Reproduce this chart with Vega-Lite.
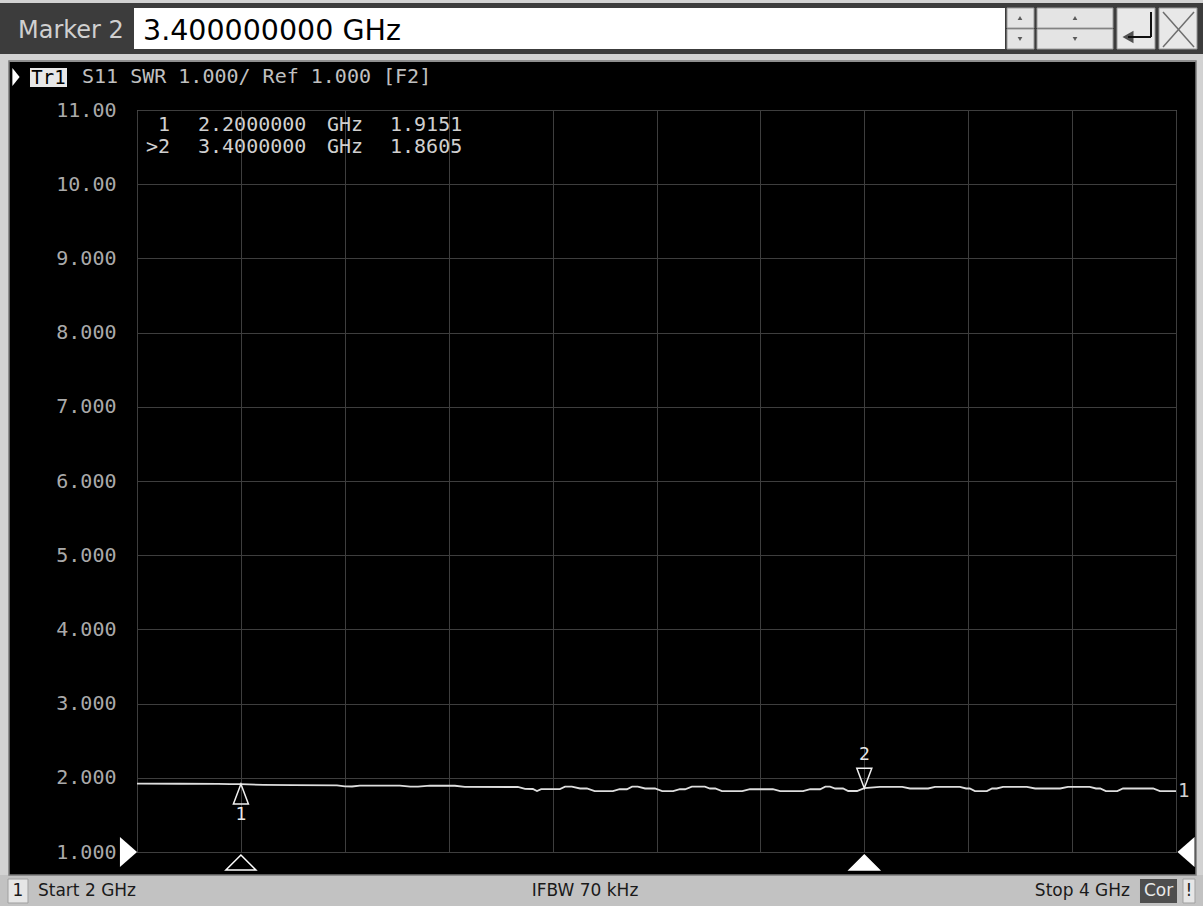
{
  "$schema": "https://vega.github.io/schema/vega-lite/v6.json",
  "width": 1039,
  "height": 742,
  "autosize": {"type": "none"},
  "padding": {"left": 137, "top": 110, "right": 27, "bottom": 54},
  "background": "#000000",
  "config": {
    "view": {"stroke": "#8f8f8f", "strokeWidth": 1},
    "axis": {
      "grid": true,
      "gridColor": "#3e3e3e",
      "gridWidth": 1,
      "ticks": false,
      "domain": false,
      "labelFont": "DejaVu Sans Mono",
      "labelFontSize": 20,
      "labelColor": "#aaaaaa"
    }
  },
  "datasets": {
    "trace": [
      {"f": 2.000, "swr": 1.922}, {"f": 2.083, "swr": 1.920}, {"f": 2.156, "swr": 1.918},
      {"f": 2.179, "swr": 1.915}, {"f": 2.200, "swr": 1.9151}, {"f": 2.243, "swr": 1.905},
      {"f": 2.300, "swr": 1.900}, {"f": 2.385, "swr": 1.899}, {"f": 2.400, "swr": 1.884},
      {"f": 2.414, "swr": 1.883}, {"f": 2.429, "swr": 1.895}, {"f": 2.506, "swr": 1.895},
      {"f": 2.526, "swr": 1.882}, {"f": 2.541, "swr": 1.881}, {"f": 2.564, "swr": 1.894},
      {"f": 2.612, "swr": 1.893}, {"f": 2.631, "swr": 1.877}, {"f": 2.733, "swr": 1.876},
      {"f": 2.747, "swr": 1.850}, {"f": 2.762, "swr": 1.849}, {"f": 2.770, "swr": 1.822},
      {"f": 2.778, "swr": 1.848}, {"f": 2.814, "swr": 1.848}, {"f": 2.824, "swr": 1.880},
      {"f": 2.837, "swr": 1.880}, {"f": 2.853, "swr": 1.856}, {"f": 2.866, "swr": 1.856},
      {"f": 2.881, "swr": 1.820}, {"f": 2.916, "swr": 1.820}, {"f": 2.929, "swr": 1.846},
      {"f": 2.943, "swr": 1.846}, {"f": 2.953, "swr": 1.880}, {"f": 2.964, "swr": 1.880},
      {"f": 2.978, "swr": 1.856}, {"f": 2.997, "swr": 1.856}, {"f": 3.011, "swr": 1.820},
      {"f": 3.032, "swr": 1.820}, {"f": 3.045, "swr": 1.846}, {"f": 3.055, "swr": 1.846},
      {"f": 3.068, "swr": 1.880}, {"f": 3.093, "swr": 1.880}, {"f": 3.103, "swr": 1.856},
      {"f": 3.113, "swr": 1.856}, {"f": 3.126, "swr": 1.820}, {"f": 3.165, "swr": 1.820},
      {"f": 3.180, "swr": 1.846}, {"f": 3.224, "swr": 1.846}, {"f": 3.238, "swr": 1.820},
      {"f": 3.282, "swr": 1.820}, {"f": 3.296, "swr": 1.846}, {"f": 3.315, "swr": 1.846},
      {"f": 3.325, "swr": 1.880}, {"f": 3.334, "swr": 1.880}, {"f": 3.344, "swr": 1.856},
      {"f": 3.359, "swr": 1.856}, {"f": 3.369, "swr": 1.822}, {"f": 3.386, "swr": 1.822},
      {"f": 3.400, "swr": 1.8605}, {"f": 3.430, "swr": 1.878}, {"f": 3.473, "swr": 1.878},
      {"f": 3.488, "swr": 1.856}, {"f": 3.523, "swr": 1.856}, {"f": 3.536, "swr": 1.878},
      {"f": 3.584, "swr": 1.878}, {"f": 3.596, "swr": 1.856}, {"f": 3.603, "swr": 1.856},
      {"f": 3.613, "swr": 1.820}, {"f": 3.636, "swr": 1.820}, {"f": 3.646, "swr": 1.856},
      {"f": 3.655, "swr": 1.856}, {"f": 3.667, "swr": 1.878}, {"f": 3.713, "swr": 1.878},
      {"f": 3.729, "swr": 1.856}, {"f": 3.777, "swr": 1.856}, {"f": 3.792, "swr": 1.878},
      {"f": 3.834, "swr": 1.878}, {"f": 3.846, "swr": 1.856}, {"f": 3.854, "swr": 1.856},
      {"f": 3.865, "swr": 1.820}, {"f": 3.887, "swr": 1.820}, {"f": 3.898, "swr": 1.856},
      {"f": 3.956, "swr": 1.856}, {"f": 3.969, "swr": 1.820}, {"f": 4.000, "swr": 1.820}
    ],
    "markers": [
      {"marker": 1, "tag": "1", "freq": 2.2, "swr": 1.9151, "active": false},
      {"marker": 2, "tag": ">2", "freq": 3.4, "swr": 1.8605, "active": true}
    ]
  },
  "layer": [
    {
      "data": {"values": [{}]},
      "mark": {"type": "rect", "fill": "#d2d2d2"},
      "encoding": {"x": {"datum": 1.73628}, "x2": {"datum": 4.05197}, "y": {"datum": 12.4825}, "y2": {"datum": 11.6469}}
    },
    {
      "data": {"values": [{}]},
      "mark": {"type": "rect", "fill": "#3c3c3c"},
      "encoding": {"x": {"datum": 1.73628}, "x2": {"datum": 4.05197}, "y": {"datum": 12.442}, "y2": {"datum": 11.7547}}
    },
    {
      "data": {"values": [{}]},
      "mark": {"type": "rect", "fill": "#d2d2d2"},
      "encoding": {"x": {"datum": 1.73628}, "x2": {"datum": 1.75361}, "y": {"datum": 11.7547}, "y2": {"datum": 0.2722}}
    },
    {
      "data": {"values": [{}]},
      "mark": {"type": "rect", "fill": "#d2d2d2"},
      "encoding": {"x": {"datum": 4.03849}, "x2": {"datum": 4.05197}, "y": {"datum": 11.7547}, "y2": {"datum": 0.2722}}
    },
    {
      "data": {"values": [{}]},
      "mark": {"type": "rect", "fill": "#c2c2c2"},
      "encoding": {"x": {"datum": 1.73628}, "x2": {"datum": 4.05197}, "y": {"datum": 0.69}, "y2": {"datum": 0.2722}}
    },
    {
      "data": {"values": [{}]},
      "mark": {"type": "rect", "fill": null, "stroke": "#7a7a7a", "strokeWidth": 1.5},
      "encoding": {"x": {"datum": 1.75361}, "x2": {"datum": 4.03849}, "y": {"datum": 11.6604}, "y2": {"datum": 0.69}}
    },
    {
      "data": {"values": [{}]},
      "mark": {"type": "rect", "fill": "#ffffff"},
      "encoding": {"x": {"datum": 1.99423}, "x2": {"datum": 3.67084}, "y": {"datum": 12.3747}, "y2": {"datum": 11.8221}}
    },
    {
      "data": {"values": [{}]},
      "mark": {"type": "rect", "fill": "#e4e4e4", "stroke": "#9a9a9a", "strokeWidth": 1},
      "encoding": {"x": {"datum": 3.67469}, "x2": {"datum": 3.72666}, "y": {"datum": 12.3747}, "y2": {"datum": 12.1051}}
    },
    {
      "data": {"values": [{}]},
      "mark": {"type": "rect", "fill": "#e4e4e4", "stroke": "#9a9a9a", "strokeWidth": 1},
      "encoding": {"x": {"datum": 3.67469}, "x2": {"datum": 3.72666}, "y": {"datum": 12.0916}, "y2": {"datum": 11.8221}}
    },
    {
      "data": {"values": [{}]},
      "mark": {"type": "rect", "fill": "#e4e4e4", "stroke": "#9a9a9a", "strokeWidth": 1},
      "encoding": {"x": {"datum": 3.73244}, "x2": {"datum": 3.87873}, "y": {"datum": 12.3747}, "y2": {"datum": 12.1051}}
    },
    {
      "data": {"values": [{}]},
      "mark": {"type": "rect", "fill": "#e4e4e4", "stroke": "#9a9a9a", "strokeWidth": 1},
      "encoding": {"x": {"datum": 3.73244}, "x2": {"datum": 3.87873}, "y": {"datum": 12.0916}, "y2": {"datum": 11.8221}}
    },
    {
      "data": {"values": [{}]},
      "mark": {"type": "rect", "fill": "#e8e8e8", "stroke": "#9a9a9a", "strokeWidth": 1},
      "encoding": {"x": {"datum": 3.88643}, "x2": {"datum": 3.95958}, "y": {"datum": 12.3747}, "y2": {"datum": 11.8221}}
    },
    {
      "data": {"values": [{}]},
      "mark": {"type": "rect", "fill": "#e8e8e8", "stroke": "#9a9a9a", "strokeWidth": 1},
      "encoding": {"x": {"datum": 3.96728}, "x2": {"datum": 4.04042}, "y": {"datum": 12.3747}, "y2": {"datum": 11.8221}}
    },
    {
      "data": {"values": [{}]},
      "mark": {"type": "point", "shape": "triangle-up", "size": 22, "filled": true, "color": "#202020"},
      "encoding": {"x": {"datum": 3.69971}, "y": {"datum": 12.2399}}
    },
    {
      "data": {"values": [{}]},
      "mark": {"type": "point", "shape": "triangle-down", "size": 22, "filled": true, "color": "#202020"},
      "encoding": {"x": {"datum": 3.69971}, "y": {"datum": 11.9569}}
    },
    {
      "data": {"values": [{}]},
      "mark": {"type": "point", "shape": "triangle-up", "size": 22, "filled": true, "color": "#202020"},
      "encoding": {"x": {"datum": 3.80558}, "y": {"datum": 12.2399}}
    },
    {
      "data": {"values": [{}]},
      "mark": {"type": "point", "shape": "triangle-down", "size": 22, "filled": true, "color": "#202020"},
      "encoding": {"x": {"datum": 3.80558}, "y": {"datum": 11.9569}}
    },
    {
      "data": {"values": [{}]},
      "mark": {"type": "rule", "color": "#101010", "strokeWidth": 2},
      "encoding": {"x": {"datum": 3.95188}, "y": {"datum": 12.3208}, "y2": {"datum": 11.9838}}
    },
    {
      "data": {"values": [{}]},
      "mark": {"type": "rule", "color": "#101010", "strokeWidth": 2},
      "encoding": {"x": {"datum": 3.9076}, "x2": {"datum": 3.95188}, "y": {"datum": 11.9838}}
    },
    {
      "data": {"values": [{}]},
      "mark": {"type": "point", "shape": "triangle-left", "size": 160, "filled": true, "color": "#101010"},
      "encoding": {"x": {"datum": 3.9076}, "y": {"datum": 11.9838}}
    },
    {
      "data": {"values": [{}]},
      "mark": {"type": "rule", "color": "#6e6e6e", "strokeWidth": 1.5},
      "encoding": {"x": {"datum": 3.97498}, "x2": {"datum": 4.03465}, "y": {"datum": 12.3208}, "y2": {"datum": 11.8491}}
    },
    {
      "data": {"values": [{}]},
      "mark": {"type": "rule", "color": "#6e6e6e", "strokeWidth": 1.5},
      "encoding": {"x": {"datum": 3.97498}, "x2": {"datum": 4.03465}, "y": {"datum": 11.8491}, "y2": {"datum": 12.3208}}
    },
    {
      "data": {"values": [{}]},
      "mark": {"type": "text", "text": "Marker 2", "align": "left", "baseline": "middle", "font": "DejaVu Sans", "fontSize": 24, "color": "#d0d0d0"},
      "encoding": {"x": {"datum": 1.77093}, "y": {"datum": 12.0647}}
    },
    {
      "data": {"values": [{}]},
      "mark": {"type": "text", "text": "3.400000000 GHz", "align": "left", "baseline": "middle", "font": "DejaVu Sans", "fontSize": 28.5, "color": "#000000"},
      "encoding": {"x": {"datum": 2.01155}, "y": {"datum": 12.0647}}
    },
    {
      "data": {"values": [{}]},
      "mark": {"type": "point", "shape": "M0.4,0L-0.4,-1L-0.4,1Z", "size": 324, "filled": true, "color": "#ffffff", "opacity": 1},
      "encoding": {"x": {"datum": 1.76708}, "y": {"datum": 11.4447}}
    },
    {
      "data": {"values": [{}]},
      "mark": {"type": "rect", "fill": "#e8e8e8"},
      "encoding": {"x": {"datum": 1.79403}, "x2": {"datum": 1.86526}, "y": {"datum": 11.566}, "y2": {"datum": 11.31}}
    },
    {
      "data": {"values": [{}]},
      "mark": {"type": "text", "text": "Tr1", "align": "center", "baseline": "middle", "font": "DejaVu Sans Mono", "fontSize": 19, "color": "#000000"},
      "encoding": {"x": {"datum": 1.8296}, "y": {"datum": 11.438}}
    },
    {
      "data": {"values": [{}]},
      "mark": {"type": "text", "text": "S11 SWR 1.000/ Ref 1.000 [F2]", "align": "left", "baseline": "middle", "font": "DejaVu Sans Mono", "fontSize": 20, "color": "#c0c0c0"},
      "encoding": {"x": {"datum": 1.89413}, "y": {"datum": 11.4447}}
    },
    {
      "data": {"name": "trace"},
      "mark": {"type": "line", "color": "#dedede", "strokeWidth": 1.8, "interpolate": "linear"},
      "encoding": {
        "x": {
          "field": "f",
          "type": "quantitative",
          "scale": {"domain": [2, 4], "nice": false, "zero": false},
          "axis": {"values": [2, 2.2, 2.4, 2.6, 2.8, 3, 3.2, 3.4, 3.6, 3.8, 4], "labels": false, "title": null}
        },
        "y": {
          "field": "swr",
          "type": "quantitative",
          "scale": {"domain": [1, 11], "nice": false, "zero": false},
          "axis": {"values": [1, 2, 3, 4, 5, 6, 7, 8, 9, 10, 11], "format": ".4r", "labelPadding": 21, "title": null}
        }
      }
    },
    {
      "data": {"name": "markers"},
      "transform": [{"filter": "datum.marker == 1"}],
      "encoding": {"y": {"datum": 10.7978}},
      "layer": [
        {"mark": {"type": "text", "align": "right", "baseline": "middle", "font": "DejaVu Sans Mono", "fontSize": 20, "color": "#d0d0d0"},
         "encoding": {"x": {"datum": 2.06352}, "text": {"field": "tag", "type": "nominal"}}},
        {"mark": {"type": "text", "align": "left", "baseline": "middle", "font": "DejaVu Sans Mono", "fontSize": 20, "color": "#d0d0d0"},
         "encoding": {"x": {"datum": 2.11742}, "text": {"field": "freq", "type": "quantitative", "format": ".7f"}}},
        {"mark": {"type": "text", "text": "GHz", "align": "left", "baseline": "middle", "font": "DejaVu Sans Mono", "fontSize": 20, "color": "#d0d0d0"},
         "encoding": {"x": {"datum": 2.36574}}},
        {"mark": {"type": "text", "align": "left", "baseline": "middle", "font": "DejaVu Sans Mono", "fontSize": 20, "color": "#d0d0d0"},
         "encoding": {"x": {"datum": 2.48701}, "text": {"field": "swr", "type": "quantitative", "format": ".4f"}}}
      ]
    },
    {
      "data": {"name": "markers"},
      "transform": [{"filter": "datum.marker == 2"}],
      "encoding": {"y": {"datum": 10.5013}},
      "layer": [
        {"mark": {"type": "text", "align": "right", "baseline": "middle", "font": "DejaVu Sans Mono", "fontSize": 20, "color": "#d0d0d0"},
         "encoding": {"x": {"datum": 2.06352}, "text": {"field": "tag", "type": "nominal"}}},
        {"mark": {"type": "text", "align": "left", "baseline": "middle", "font": "DejaVu Sans Mono", "fontSize": 20, "color": "#d0d0d0"},
         "encoding": {"x": {"datum": 2.11742}, "text": {"field": "freq", "type": "quantitative", "format": ".7f"}}},
        {"mark": {"type": "text", "text": "GHz", "align": "left", "baseline": "middle", "font": "DejaVu Sans Mono", "fontSize": 20, "color": "#d0d0d0"},
         "encoding": {"x": {"datum": 2.36574}}},
        {"mark": {"type": "text", "align": "left", "baseline": "middle", "font": "DejaVu Sans Mono", "fontSize": 20, "color": "#d0d0d0"},
         "encoding": {"x": {"datum": 2.48701}, "text": {"field": "swr", "type": "quantitative", "format": ".4f"}}}
      ]
    },
    {
      "data": {"name": "markers"},
      "transform": [{"filter": "datum.marker == 1"}],
      "encoding": {"x": {"field": "freq", "type": "quantitative"}, "y": {"field": "swr", "type": "quantitative"}},
      "layer": [
        {"mark": {"type": "point", "shape": "M0,0L0.75,2L-0.75,2Z", "size": 400, "filled": false, "stroke": "#f0f0f0", "strokeWidth": 1.5, "opacity": 1}},
        {"mark": {"type": "text", "dy": 31, "baseline": "middle", "font": "DejaVu Sans Mono", "fontSize": 18, "color": "#e8e8e8"},
         "encoding": {"text": {"field": "marker", "type": "nominal"}}}
      ]
    },
    {
      "data": {"name": "markers"},
      "transform": [{"filter": "datum.marker == 2"}],
      "encoding": {"x": {"field": "freq", "type": "quantitative"}, "y": {"field": "swr", "type": "quantitative"}},
      "layer": [
        {"mark": {"type": "point", "shape": "M0,0L0.75,-2L-0.75,-2Z", "size": 400, "filled": false, "stroke": "#f0f0f0", "strokeWidth": 1.5, "opacity": 1}},
        {"mark": {"type": "text", "dy": -33, "baseline": "middle", "font": "DejaVu Sans Mono", "fontSize": 18, "color": "#e8e8e8"},
         "encoding": {"text": {"field": "marker", "type": "nominal"}}}
      ]
    },
    {
      "data": {"name": "markers"},
      "mark": {"type": "point", "shape": "M0,-0.5L1,0.5L-1,0.5Z", "size": 900, "filled": true, "stroke": "#ffffff", "strokeWidth": 1.5, "opacity": 1, "yOffset": 10.5},
      "encoding": {
        "x": {"field": "freq", "type": "quantitative"},
        "y": {"datum": 1},
        "fill": {"condition": {"test": "datum.active", "value": "#ffffff"}, "value": "#000000"}
      }
    },
    {
      "data": {"values": [{}]},
      "mark": {"type": "point", "shape": "M0.57,0L-0.57,-1L-0.57,1Z", "size": 900, "filled": true, "color": "#ffffff", "opacity": 1, "xOffset": -8.5},
      "encoding": {"x": {"datum": 2}, "y": {"datum": 1}}
    },
    {
      "data": {"values": [{}]},
      "mark": {"type": "point", "shape": "M-0.57,0L0.57,-1L0.57,1Z", "size": 900, "filled": true, "color": "#ffffff", "opacity": 1, "xOffset": 10},
      "encoding": {"x": {"datum": 4}, "y": {"datum": 1}}
    },
    {
      "data": {"values": [{}]},
      "mark": {"type": "text", "text": "1", "align": "left", "baseline": "middle", "dx": 2, "font": "DejaVu Sans Mono", "fontSize": 19, "color": "#d0d0d0"},
      "encoding": {"x": {"datum": 4}, "y": {"datum": 1.82}}
    },
    {
      "data": {"values": [{}]},
      "mark": {"type": "rect", "fill": "#e6e6e6", "stroke": "#a0a0a0", "strokeWidth": 1},
      "encoding": {"x": {"datum": 1.75169}, "x2": {"datum": 1.79018}, "y": {"datum": 0.6361}, "y2": {"datum": 0.3127}}
    },
    {
      "data": {"values": [{}]},
      "mark": {"type": "rect", "fill": "#4e4e4e"},
      "encoding": {"x": {"datum": 3.9307}, "x2": {"datum": 4.00192}, "y": {"datum": 0.6361}, "y2": {"datum": 0.3127}}
    },
    {
      "data": {"values": [{}]},
      "mark": {"type": "rect", "fill": "#e6e6e6", "stroke": "#a0a0a0", "strokeWidth": 1},
      "encoding": {"x": {"datum": 4.01347}, "x2": {"datum": 4.03657}, "y": {"datum": 0.6361}, "y2": {"datum": 0.3127}}
    },
    {
      "data": {"values": [{}]},
      "mark": {"type": "text", "text": "1", "align": "center", "baseline": "middle", "font": "DejaVu Sans", "fontSize": 17, "color": "#1a1a1a"},
      "encoding": {"x": {"datum": 1.77093}, "y": {"datum": 0.4744}}
    },
    {
      "data": {"values": [{}]},
      "mark": {"type": "text", "text": "Start 2 GHz", "align": "left", "baseline": "middle", "font": "DejaVu Sans", "fontSize": 17, "color": "#1a1a1a"},
      "encoding": {"x": {"datum": 1.80943}, "y": {"datum": 0.4744}}
    },
    {
      "data": {"values": [{}]},
      "mark": {"type": "text", "text": "IFBW 70 kHz", "align": "center", "baseline": "middle", "font": "DejaVu Sans", "fontSize": 17, "color": "#1a1a1a"},
      "encoding": {"x": {"datum": 2.86237}, "y": {"datum": 0.4744}}
    },
    {
      "data": {"values": [{}]},
      "mark": {"type": "text", "text": "Stop 4 GHz", "align": "right", "baseline": "middle", "font": "DejaVu Sans", "fontSize": 17, "color": "#1a1a1a"},
      "encoding": {"x": {"datum": 3.91145}, "y": {"datum": 0.4744}}
    },
    {
      "data": {"values": [{}]},
      "mark": {"type": "text", "text": "Cor", "align": "center", "baseline": "middle", "font": "DejaVu Sans", "fontSize": 17, "color": "#e8e8e8"},
      "encoding": {"x": {"datum": 3.96632}, "y": {"datum": 0.4744}}
    },
    {
      "data": {"values": [{}]},
      "mark": {"type": "text", "text": "!", "align": "center", "baseline": "middle", "font": "DejaVu Sans", "fontSize": 17, "color": "#1a1a1a"},
      "encoding": {"x": {"datum": 4.02502}, "y": {"datum": 0.4744}}
    }
  ]
}
